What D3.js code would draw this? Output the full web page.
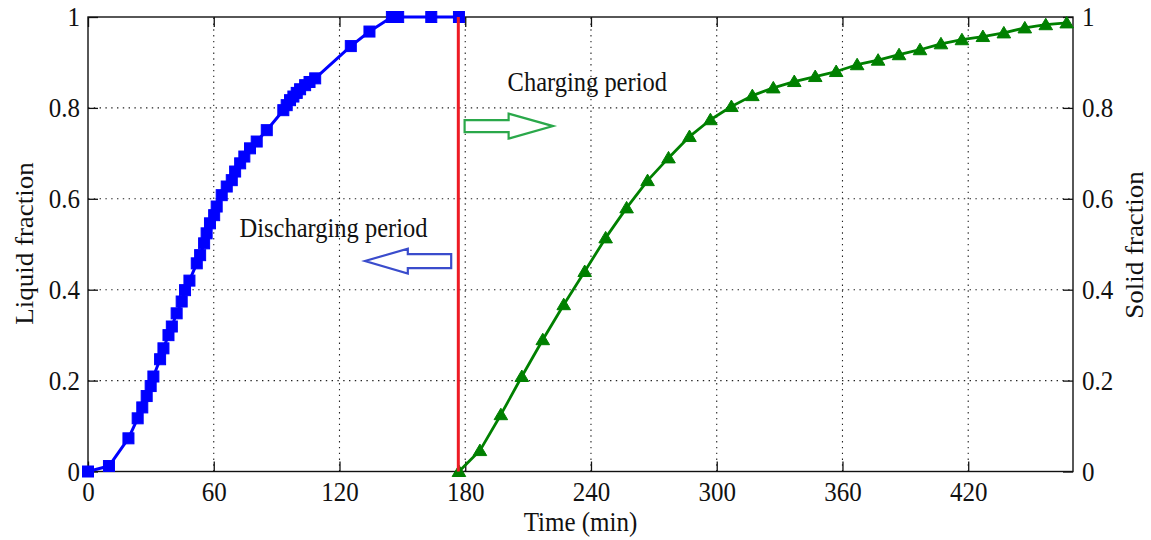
<!DOCTYPE html>
<html>
<head>
<meta charset="utf-8">
<script src="https://cdn.jsdelivr.net/npm/d3@7"></script>
<style>
  body { margin: 0; background: #fff; }
  svg { display: block; }
  text { font-family: "Liberation Serif", "Times New Roman", serif; fill: #111; }
</style>
</head>
<body>
<svg id="chart" width="1151" height="540"></svg>
<script>
// Axis ticks
const timeTicks = [0, 60, 120, 180, 240, 300, 360, 420];
const fractionTicks = [0, 0.2, 0.4, 0.6, 0.8, 1];

// Discharging: liquid fraction vs time (min)
const dischargeTime = [0, 10, 19.3, 23.7, 25.9, 28, 29.9, 31.2, 34.4, 36, 38.4, 40, 42.3, 44.7,
  46.3, 48.4, 51.9, 53.5, 55.4, 56.6, 58.2, 60.2, 61.4, 63.8, 66.2, 68.6, 70.2, 72.6, 74.6,
  77.3, 80.5, 85.3, 93.2, 94.8, 96.4, 98, 99.6, 101.2, 103.6, 105.7, 108.4, 125.4, 134.3,
  145, 148, 163.8, 177];
const liquidFraction = [0, 0.012, 0.073, 0.117, 0.141, 0.166, 0.188, 0.209, 0.247, 0.271, 0.30,
  0.319, 0.348, 0.374, 0.399, 0.42, 0.458, 0.476, 0.502, 0.524, 0.546, 0.564, 0.583, 0.608,
  0.627, 0.641, 0.66, 0.678, 0.693, 0.711, 0.726, 0.751, 0.795, 0.806, 0.817, 0.825, 0.833,
  0.841, 0.85, 0.857, 0.865, 0.936, 0.968, 1.0, 1.0, 1.0, 1.0];

// Charging: solid fraction vs time (min)
const chargeTime = [177, 187, 197, 207, 217, 227, 237, 247, 257, 267, 277, 287, 297, 307, 317,
  327, 337, 347, 357, 367, 377, 387, 397, 407, 417, 427, 437, 447, 457, 467];
const solidFraction = [0, 0.046, 0.125, 0.209, 0.29, 0.367, 0.44, 0.514, 0.58, 0.64, 0.69,
  0.737, 0.774, 0.803, 0.827, 0.844, 0.858, 0.869, 0.88, 0.895, 0.905, 0.917, 0.928, 0.941,
  0.95, 0.957, 0.965, 0.976, 0.983, 0.987];

// Switch between discharging and charging
const switchTime = 176.7;

// Period annotations (anchored in data units)
const chargeNote = { text: "Charging period", t: 200.2, v: 0.837 };
const dischargeNote = { text: "Discharging period", t: 72.3, v: 0.517 };
const chargeArrow = { from: 179.7, head: 200.7, to: 221.9, level: 0.76, shaft: 6, half: 12.5 };
const dischargeArrow = { from: 173.3, head: 152.6, to: 132.2, level: 0.463, shaft: 7, half: 12.4 };

const svg = d3.select("#chart");
const x = d3.scaleLinear().domain([0, 470]).range([88, 1073]);
const y = d3.scaleLinear().domain([0, 1]).range([471.5, 17]);
const STRETCH = 1.08;
const fmt = d => d === 0 ? "0" : d === 1 ? "1" : d3.format(".1f")(d);

// Grid
const grid = svg.append("g").attr("stroke", "#222").attr("stroke-width", 1.1)
  .attr("stroke-dasharray", "1.4,4.4");
grid.selectAll(".gx").data(timeTicks.filter(d => d > 0)).join("line")
  .attr("x1", d => x(d)).attr("x2", d => x(d)).attr("y1", y(0)).attr("y2", y(1));
grid.selectAll(".gy").data(fractionTicks.filter(d => d > 0 && d < 1)).join("line")
  .attr("x1", x.range()[0]).attr("x2", x.range()[1]).attr("y1", d => y(d)).attr("y2", d => y(d));

// Axes with inward ticks
function styleAxis(g) {
  g.select(".domain").remove();
  g.selectAll(".tick line").attr("stroke", "#111").attr("stroke-width", 1.3);
  g.selectAll(".tick text").attr("font-size", 25)
    .style("font-family", '"Liberation Serif", "Times New Roman", serif').attr("fill", "#111");
}
svg.append("g").attr("transform", `translate(0,${y(0)})`)
  .call(d3.axisBottom(x).tickValues(timeTicks).tickSizeInner(-10).tickSizeOuter(0).tickPadding(9.6))
  .call(styleAxis)
  .call(g => g.selectAll(".tick text").attr("transform", `scale(1,${STRETCH})`));
svg.append("g").attr("transform", `translate(0,${y(1)})`)
  .call(d3.axisTop(x).tickValues(timeTicks).tickSizeInner(-10).tickSizeOuter(0).tickFormat(""))
  .call(styleAxis);
svg.append("g").attr("transform", `translate(${x.range()[0]},0)`)
  .call(d3.axisLeft(y).tickValues(fractionTicks).tickSizeInner(-10).tickSizeOuter(0).tickPadding(8).tickFormat(fmt))
  .call(styleAxis)
  .call(g => g.selectAll(".tick text").attr("transform", `scale(1,${STRETCH})`));
svg.append("g").attr("transform", `translate(${x.range()[1]},0)`)
  .call(d3.axisRight(y).tickValues(fractionTicks).tickSizeInner(-10).tickSizeOuter(0).tickPadding(9).tickFormat(fmt))
  .call(styleAxis)
  .call(g => g.selectAll(".tick text").attr("transform", `scale(1,${STRETCH})`));

// Frame
svg.append("rect")
  .attr("x", x.range()[0]).attr("y", y(1))
  .attr("width", x.range()[1] - x.range()[0]).attr("height", y(0) - y(1))
  .attr("fill", "none").attr("stroke", "#111").attr("stroke-width", 1.4);

// Axis titles
function label(txt, px, py, rotate, anchor) {
  const tr = rotate
    ? `translate(${px},${py}) rotate(-90) scale(${STRETCH},1)`
    : `translate(${px},${py}) scale(1,${STRETCH})`;
  return svg.append("text").attr("transform", tr).attr("text-anchor", anchor)
    .attr("font-size", 25).text(txt);
}
label("Time (min)", (x.range()[0] + x.range()[1]) / 2, 531, false, "middle");
label("Liquid fraction", 33, 243.5, true, "middle");
label("Solid fraction", 1143, 245, true, "middle");

// Discharging series
const blue = "#0000ff";
const dischargePts = dischargeTime.map((t, i) => [t, liquidFraction[i]]);
svg.append("path").datum(dischargePts)
  .attr("fill", "none").attr("stroke", blue).attr("stroke-width", 3).attr("stroke-linejoin", "round")
  .attr("d", d3.line().x(d => x(d[0])).y(d => y(d[1])));
svg.append("g").selectAll("rect").data(dischargePts).join("rect")
  .attr("x", d => x(d[0]) - 5.5).attr("y", d => y(d[1]) - 5.5)
  .attr("width", 11).attr("height", 11)
  .attr("fill", blue).attr("stroke", blue).attr("stroke-width", 1);

// Charging series
const green = "#008000";
const chargePts = chargeTime.map((t, i) => [t, solidFraction[i]]);
svg.append("path").datum(chargePts)
  .attr("fill", "none").attr("stroke", green).attr("stroke-width", 2.8).attr("stroke-linejoin", "round")
  .attr("d", d3.line().x(d => x(d[0])).y(d => y(d[1])));
svg.append("g").selectAll("path").data(chargePts).join("path")
  .attr("transform", d => `translate(${x(d[0])},${y(d[1])})`)
  .attr("d", "M0,-6.5L6.8,5L-6.8,5Z")
  .attr("fill", green).attr("stroke", green).attr("stroke-width", 1);

// Period switch marker
svg.append("line")
  .attr("x1", x(switchTime)).attr("x2", x(switchTime)).attr("y1", y(0)).attr("y2", y(1))
  .attr("stroke", "#ee1b24").attr("stroke-width", 3);

// Hollow block arrows
function blockArrow(a, color) {
  const cy = y(a.level);
  const pts = [
    [x(a.from), cy - a.shaft], [x(a.head), cy - a.shaft], [x(a.head), cy - a.half],
    [x(a.to), cy], [x(a.head), cy + a.half], [x(a.head), cy + a.shaft], [x(a.from), cy + a.shaft]
  ];
  svg.append("path").attr("d", d3.line()(pts) + "Z")
    .attr("fill", "#fff").attr("stroke", color).attr("stroke-width", 2.2)
    .attr("stroke-linejoin", "miter");
}
blockArrow(chargeArrow, "#2aa84a");
blockArrow(dischargeArrow, "#3a4ccc");

// Period labels
[chargeNote, dischargeNote].forEach(n => {
  svg.append("text")
    .attr("transform", `translate(${x(n.t)},${y(n.v)}) scale(1,${STRETCH})`)
    .attr("font-size", 24.5).text(n.text);
});
</script>
</body>
</html>
